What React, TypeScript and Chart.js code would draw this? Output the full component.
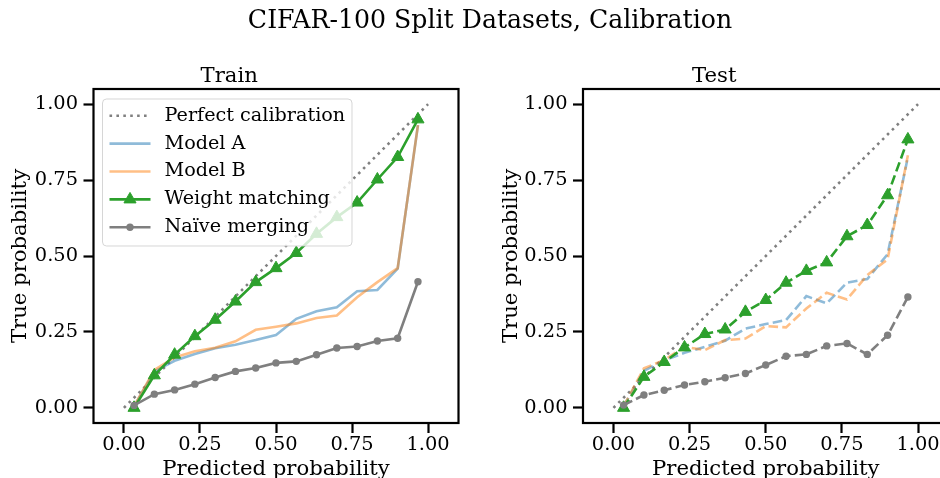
import React, { useEffect, useRef } from 'react';
import { Chart, registerables } from 'chart.js';

Chart.register(...registerables);

// ---- data ----
const binCenters = [0.0333, 0.1, 0.1667, 0.2333, 0.3, 0.3667, 0.4333, 0.5, 0.5667, 0.6333, 0.7, 0.7667, 0.8333, 0.9, 0.9667];
const tickValues = [0, 0.25, 0.5, 0.75, 1];
const perfectLine = [0, 1];

const trainModelA = [0.005, 0.12, 0.155, 0.177, 0.196, 0.208, 0.223, 0.24, 0.293, 0.318, 0.331, 0.384, 0.388, 0.458, 0.931];
const trainModelB = [0.005, 0.125, 0.166, 0.186, 0.198, 0.219, 0.257, 0.267, 0.278, 0.296, 0.304, 0.364, 0.414, 0.46, 0.931];
const trainWeightMatching = [0.0, 0.107, 0.175, 0.236, 0.29, 0.35, 0.414, 0.46, 0.51, 0.573, 0.628, 0.676, 0.752, 0.826, 0.95];
const trainNaive = [0.008, 0.045, 0.059, 0.078, 0.1, 0.12, 0.131, 0.148, 0.153, 0.175, 0.197, 0.202, 0.22, 0.229, 0.415];

const testModelA = [0.005, 0.122, 0.157, 0.181, 0.201, 0.221, 0.261, 0.276, 0.289, 0.368, 0.344, 0.412, 0.424, 0.506, 0.826];
const testModelB = [0.005, 0.13, 0.157, 0.201, 0.19, 0.223, 0.228, 0.269, 0.265, 0.327, 0.379, 0.357, 0.437, 0.489, 0.832];
const testWeightMatching = [0.0, 0.102, 0.151, 0.199, 0.243, 0.258, 0.316, 0.355, 0.412, 0.451, 0.479, 0.565, 0.602, 0.7, 0.884];
const testNaive = [0.009, 0.042, 0.058, 0.075, 0.086, 0.099, 0.113, 0.141, 0.17, 0.176, 0.204, 0.212, 0.176, 0.239, 0.365];

const seriesLabels = ['Perfect calibration', 'Model A', 'Model B', 'Weight matching', 'Naïve merging'];

// ---- styling ----
const FONT = "'DejaVu Serif', serif";
const TICK_SIZE = 19.4;
const LABEL_SIZE = 21.2;
const TITLE_SIZE = 21.2;
const LEGEND_SIZE = 19.2;
const SUP_SIZE = 25.2;
const LW = 2.6;

type Panel = {
  title: string;
  modelA: number[];
  modelB: number[];
  weightMatching: number[];
  naive: number[];
  dashed: boolean;
  legend: boolean;
  yAxisWidth: number;
  yTitlePad: number;
  padRight: number;
};

const pts = (ys: number[]) => ys.map((y, i) => ({ x: binCenters[i], y }));

function drawMarker(ctx: CanvasRenderingContext2D, style: string, x: number, y: number, r: number, color: string) {
  ctx.save();
  ctx.fillStyle = color;
  ctx.strokeStyle = color;
  ctx.lineWidth = 1;
  ctx.beginPath();
  if (style === 'triangle') {
    let rad = 0;
    ctx.moveTo(x + Math.sin(rad) * r, y - Math.cos(rad) * r);
    rad += (2 * Math.PI) / 3;
    ctx.lineTo(x + Math.sin(rad) * r, y - Math.cos(rad) * r);
    rad += (2 * Math.PI) / 3;
    ctx.lineTo(x + Math.sin(rad) * r, y - Math.cos(rad) * r);
    ctx.closePath();
  } else {
    ctx.arc(x, y, r, 0, Math.PI * 2);
  }
  ctx.fill();
  if (style === 'triangle') ctx.stroke();
  ctx.restore();
}

const framePlugin = {
  id: 'mplFrame',
  afterDatasetsDraw(chart: any, _args: any, opts: any) {
    const ctx: CanvasRenderingContext2D = chart.ctx;
    const { left, top, right, bottom } = chart.chartArea;
    ctx.save();
    ctx.strokeStyle = '#000';
    ctx.lineWidth = 2.2;
    ctx.strokeRect(left, top, right - left, bottom - top);
    ctx.restore();

    if (!opts || !opts.showLegend) return;
    const x0 = left + 9;
    const y0 = top + 10;
    const w = 249.5;
    const h = 147;
    const r = 4;
    ctx.save();
    ctx.beginPath();
    ctx.moveTo(x0 + r, y0);
    ctx.lineTo(x0 + w - r, y0);
    ctx.arcTo(x0 + w, y0, x0 + w, y0 + r, r);
    ctx.lineTo(x0 + w, y0 + h - r);
    ctx.arcTo(x0 + w, y0 + h, x0 + w - r, y0 + h, r);
    ctx.lineTo(x0 + r, y0 + h);
    ctx.arcTo(x0, y0 + h, x0, y0 + h - r, r);
    ctx.lineTo(x0, y0 + r);
    ctx.arcTo(x0, y0, x0 + r, y0, r);
    ctx.closePath();
    ctx.fillStyle = 'rgba(255,255,255,0.8)';
    ctx.fill();
    ctx.strokeStyle = 'rgba(204,204,204,0.8)';
    ctx.lineWidth = 1;
    ctx.stroke();

    const datasets = chart.data.datasets;
    datasets.forEach((ds: any, i: number) => {
      const yy = y0 + 16.7 + i * 27.9;
      const lx0 = x0 + 7;
      const lx1 = x0 + 48;
      ctx.save();
      ctx.strokeStyle = ds.borderColor;
      ctx.lineWidth = ds.borderWidth;
      ctx.setLineDash(ds.legendDash || []);
      ctx.beginPath();
      ctx.moveTo(lx0, yy);
      ctx.lineTo(lx1, yy);
      ctx.stroke();
      ctx.restore();
      if (ds.pointRadius > 0) {
        drawMarker(ctx, ds.pointStyle, (lx0 + lx1) / 2, yy, ds.pointRadius, ds.backgroundColor);
      }
      ctx.save();
      ctx.fillStyle = '#000';
      ctx.font = `${LEGEND_SIZE}px ${FONT}`;
      ctx.textBaseline = 'middle';
      ctx.textAlign = 'left';
      ctx.fillText(ds.label, x0 + 62, yy);
      ctx.restore();
    });
    ctx.restore();
  },
};

function buildConfig(p: Panel): any {
  const dash = p.dashed ? [9.6, 4.2] : [];
  const dotted = [2.6, 4.3];
  const tickFont = { family: FONT, size: TICK_SIZE, lineHeight: 1.0 };
  const gridOpts = {
    display: true,
    drawOnChartArea: false,
    drawTicks: true,
    tickLength: 10,
    tickWidth: 2.2,
    tickColor: '#000',
  };
  return {
    type: 'line',
    data: {
      datasets: [
        {
          label: seriesLabels[0],
          data: perfectLine.map((v) => ({ x: v, y: v })),
          borderColor: '#808080',
          borderWidth: LW,
          borderDash: dotted,
          legendDash: dotted,
          pointRadius: 0,
          order: 4,
        },
        {
          label: seriesLabels[1],
          data: pts(p.modelA),
          borderColor: 'rgba(31,119,180,0.5)',
          borderWidth: LW,
          borderDash: dash,
          pointRadius: 0,
          order: 3,
        },
        {
          label: seriesLabels[2],
          data: pts(p.modelB),
          borderColor: 'rgba(255,127,14,0.5)',
          borderWidth: LW,
          borderDash: dash,
          pointRadius: 0,
          order: 2,
        },
        {
          label: seriesLabels[3],
          data: pts(p.weightMatching),
          borderColor: '#2ca02c',
          backgroundColor: '#2ca02c',
          borderWidth: LW,
          borderDash: dash,
          pointStyle: 'triangle',
          pointRadius: 7,
          pointBorderWidth: 1,
          pointBorderColor: '#2ca02c',
          pointBackgroundColor: '#2ca02c',
          order: 1,
        },
        {
          label: seriesLabels[4],
          data: pts(p.naive),
          borderColor: '#7f7f7f',
          backgroundColor: '#7f7f7f',
          borderWidth: LW,
          borderDash: dash,
          pointStyle: 'circle',
          pointRadius: 3.7,
          pointBorderWidth: 0,
          pointBackgroundColor: '#7f7f7f',
          order: 0,
        },
      ],
    },
    options: {
      animation: false,
      responsive: false,
      maintainAspectRatio: false,
      events: [],
      layout: { padding: { left: 0, right: p.padRight, top: 0, bottom: 0 } },
      elements: { line: { tension: 0, fill: false } },
      plugins: {
        legend: { display: false },
        tooltip: { enabled: false },
        title: {
          display: true,
          text: p.title,
          color: '#000',
          font: { family: FONT, size: TITLE_SIZE, weight: 'normal', lineHeight: 1.2 },
          padding: { top: 64, bottom: -0.44 },
        },
        mplFrame: { showLegend: p.legend },
      },
      scales: {
        x: {
          type: 'linear',
          min: -0.1,
          max: 1.1,
          afterBuildTicks: (s: any) => {
            s.ticks = tickValues.map((v) => ({ value: v }));
          },
          afterFit: (s: any) => {
            s.height = 55;
          },
          grid: gridOpts,
          border: { display: false },
          ticks: {
            color: '#000',
            font: tickFont,
            padding: 2,
            maxRotation: 0,
            autoSkip: false,
            callback: (v: any) => Number(v).toFixed(2),
          },
          title: {
            display: true,
            text: 'Predicted probability',
            color: '#000',
            font: { family: FONT, size: LABEL_SIZE, lineHeight: 1.0 },
            padding: { top: 0, bottom: -2 },
          },
        },
        y: {
          type: 'linear',
          min: -0.05,
          max: 1.05,
          afterBuildTicks: (s: any) => {
            s.ticks = tickValues.map((v) => ({ value: v }));
          },
          afterFit: (s: any) => {
            s.width = p.yAxisWidth;
          },
          grid: gridOpts,
          border: { display: false },
          ticks: {
            color: '#000',
            font: tickFont,
            padding: 5.5,
            autoSkip: false,
            callback: (v: any) => Number(v).toFixed(2),
          },
          title: {
            display: true,
            text: 'True probability',
            color: '#000',
            font: { family: FONT, size: LABEL_SIZE, lineHeight: 1.0 },
            padding: { top: p.yTitlePad, bottom: 0 },
          },
        },
      },
    },
    plugins: [framePlugin],
  };
}

const trainPanel: Panel = {
  title: 'Train',
  modelA: trainModelA,
  modelB: trainModelB,
  weightMatching: trainWeightMatching,
  naive: trainNaive,
  dashed: false,
  legend: true,
  yAxisWidth: 93.5,
  yTitlePad: 9.4,
  padRight: 21.5,
};

const testPanel: Panel = {
  title: 'Test',
  modelA: testModelA,
  modelB: testModelB,
  weightMatching: testWeightMatching,
  naive: testNaive,
  dashed: true,
  legend: false,
  yAxisWidth: 103,
  yTitlePad: 20.4,
  padRight: 11.5,
};

function ChartPanel({ panel, left }: { panel: Panel; left: number }) {
  const ref = useRef<HTMLCanvasElement>(null);
  useEffect(() => {
    const chart = new Chart(ref.current as HTMLCanvasElement, buildConfig(panel));
    return () => chart.destroy();
  }, []);
  return (
    <canvas
      ref={ref}
      width={480}
      height={478}
      style={{ position: 'absolute', left, top: 0, width: 480, height: 478 }}
    />
  );
}

export default function App() {
  return (
    <div
      style={{
        position: 'absolute',
        left: 0,
        top: 0,
        width: 940,
        height: 478,
        overflow: 'hidden',
        background: '#fff',
      }}
    >
      <ChartPanel panel={trainPanel} left={0} />
      <ChartPanel panel={testPanel} left={480} />
      <div
        style={{
          position: 'absolute',
          left: 0,
          top: 5.5,
          width: 980,
          textAlign: 'center',
          fontFamily: FONT,
          fontSize: SUP_SIZE,
          lineHeight: '28px',
          color: '#000',
          whiteSpace: 'nowrap',
        }}
      >
        CIFAR-100 Split Datasets, Calibration
      </div>
    </div>
  );
}
